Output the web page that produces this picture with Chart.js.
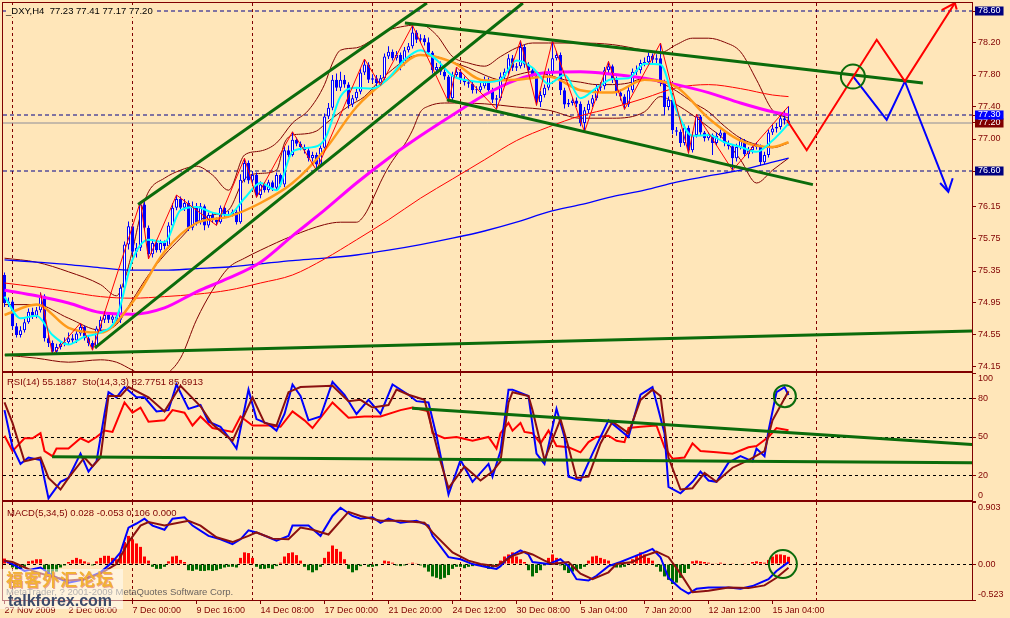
<!DOCTYPE html>
<html><head><meta charset="utf-8">
<script src="https://cdn.jsdelivr.net/npm/chart.js@4.4.1/dist/chart.umd.min.js"></script>
<style>
html,body{margin:0;padding:0;background:#FFE6B9;}
#wrap{position:relative;width:1010px;height:618px;overflow:hidden;background:#FFE6B9;font-family:'Liberation Sans',Arial,sans-serif;}
canvas{position:absolute;left:0;}
.frame{position:absolute;box-sizing:border-box;border:1px solid #800000;pointer-events:none;}
.txt{position:absolute;white-space:pre;line-height:12px;}
</style></head><body>
<div id="wrap">
<canvas id="c1" width="1010" height="372" style="top:0px;width:1010px;height:372px"></canvas>
<canvas id="c2" width="1010" height="131" style="top:371px;width:1010px;height:131px"></canvas>
<canvas id="c3" width="1010" height="118" style="top:500px;width:1010px;height:118px"></canvas>
<div class="frame" style="left:2px;top:2px;width:971px;height:370px"></div>
<div class="frame" style="left:2px;top:372px;width:971px;height:129px"></div>
<div class="frame" style="left:2px;top:501px;width:971px;height:100px"></div>
<div class="txt" style="left:6px;top:5px;font-size:9.5px;color:#000;background:#FFE6B9;padding-right:2px">_DXY,H4  77.23 77.41 77.17 77.20</div>
<div class="txt" style="left:7px;top:376px;font-size:9.5px;color:#800000">RSI(14) 55.1887  Sto(14,3,3) 82.7751 85.6913</div>
<div class="txt" style="left:7px;top:507px;font-size:9.5px;color:#800000">MACD(5,34,5) 0.028 -0.053 0.106 0.000</div>
<div class="txt" style="left:6px;top:586px;font-size:9.5px;color:#6a6460">MetaTrader, ? 2001-2009 MetaQuotes Software Corp.</div>
<div style="position:absolute;left:0;top:569px;width:123px;height:40px;background:rgba(255,255,255,0.5)"></div>
<div class="txt" style="left:6px;top:569px;line-height:20px;font-size:17px;font-weight:bold;letter-spacing:1px;color:#F2B134;text-shadow:1px 1px 0 rgba(215,90,90,0.55);font-family:'Noto Sans CJK SC',sans-serif">福客外汇论坛</div>
<div class="txt" style="left:8px;top:592px;line-height:17px;font-size:16px;font-weight:bold;color:#3C4A6B">talkforex.com</div>
</div>
<script>
// ---------------- DATA ----------------
const opens = [
75.30,74.95,74.97,74.66,74.55,74.61,74.71,74.84,74.79,74.86,
75.04,74.51,74.45,74.34,74.40,74.44,74.46,74.51,74.48,74.57,
74.65,74.51,74.45,74.40,74.63,74.74,74.80,74.74,74.78,74.74,
75.14,75.68,75.91,75.59,75.64,76.18,75.89,75.56,75.70,75.61,
75.70,75.66,75.92,76.14,76.25,76.14,76.20,75.89,76.16,75.96,
76.16,75.92,76.05,75.99,75.96,76.14,76.05,76.06,76.09,75.96,
76.49,76.70,76.48,76.55,76.30,76.43,76.36,76.46,76.39,76.55,
76.43,76.86,76.80,76.99,76.94,76.90,76.86,76.76,76.80,76.68,
76.89,77.28,77.39,77.74,77.64,77.74,77.68,77.43,77.51,77.59,
77.83,77.93,77.74,77.76,77.70,77.76,78.03,78.09,78.01,78.05,
77.95,78.11,78.16,78.33,78.24,78.26,78.21,78.08,77.86,77.90,
77.84,77.78,77.51,77.80,77.84,77.74,77.71,77.69,77.61,77.61,
77.66,77.74,77.61,77.49,77.51,77.78,77.84,78.01,77.89,77.91,
78.15,77.93,77.86,77.79,77.46,77.55,77.64,77.84,78.01,78.05,
77.61,77.43,77.45,77.48,77.44,77.20,77.36,77.44,77.51,77.64,
77.66,77.86,77.91,77.74,77.58,77.53,77.43,77.61,77.84,77.86,
77.95,77.96,78.04,77.99,78.01,77.70,77.40,77.49,77.11,77.09,
76.95,77.14,76.86,77.05,77.28,77.08,77.01,77.05,76.95,77.04,
77.08,76.95,76.91,76.76,76.90,76.98,76.81,76.86,76.90,76.91,
76.71,76.80,77.08,77.13,77.15,77.26,77.23];
const closes = [
74.95,74.97,74.66,74.55,74.61,74.71,74.84,74.79,74.86,75.04,
74.51,74.45,74.34,74.40,74.44,74.46,74.51,74.48,74.57,74.65,
74.51,74.45,74.40,74.63,74.74,74.80,74.74,74.78,74.74,75.14,
75.68,75.91,75.59,75.64,76.18,75.89,75.56,75.70,75.61,75.70,
75.66,75.92,76.14,76.25,76.14,76.20,75.89,76.16,75.96,76.16,
75.92,76.05,75.99,75.96,76.14,76.05,76.06,76.09,75.96,76.49,
76.70,76.48,76.55,76.30,76.43,76.36,76.46,76.39,76.55,76.43,
76.86,76.80,76.99,76.94,76.90,76.86,76.76,76.80,76.68,76.89,
77.28,77.39,77.74,77.64,77.74,77.68,77.43,77.51,77.59,77.83,
77.93,77.74,77.76,77.70,77.76,78.03,78.09,78.01,78.05,77.95,
78.11,78.16,78.33,78.24,78.26,78.21,78.08,77.86,77.90,77.84,
77.78,77.51,77.80,77.84,77.74,77.71,77.69,77.61,77.61,77.66,
77.74,77.61,77.49,77.51,77.78,77.84,78.01,77.89,77.91,78.15,
77.93,77.86,77.79,77.46,77.55,77.64,77.84,78.01,78.05,77.61,
77.43,77.45,77.48,77.44,77.20,77.36,77.44,77.51,77.64,77.66,
77.86,77.91,77.74,77.58,77.53,77.43,77.61,77.84,77.86,77.95,
77.96,78.04,77.99,78.01,77.70,77.40,77.49,77.11,77.09,76.95,
77.14,76.86,77.05,77.28,77.08,77.01,77.05,76.95,77.04,77.08,
76.95,76.91,76.76,76.90,76.98,76.81,76.86,76.90,76.91,76.71,
76.80,77.08,77.13,77.15,77.26,77.23,77.20];
const highs = [
75.33,75.02,74.99,74.70,74.66,74.75,74.88,74.89,74.90,75.08,
75.06,74.55,74.48,74.44,74.47,74.52,74.58,74.56,74.62,74.70,
74.67,74.54,74.48,74.66,74.78,74.85,74.83,74.82,74.81,75.18,
75.72,75.97,75.94,75.70,76.22,76.21,75.92,75.75,75.74,75.74,
75.73,75.96,76.20,76.30,76.28,76.25,76.23,76.22,76.20,76.20,
76.18,76.08,76.08,76.02,76.17,76.16,76.10,76.12,76.12,76.56,
76.76,76.73,76.60,76.58,76.47,76.46,76.49,76.48,76.58,76.57,
76.90,76.92,77.09,77.02,76.97,76.93,76.89,76.84,76.83,76.92,
77.32,77.45,77.80,77.82,77.84,77.80,77.71,77.55,77.63,77.88,
78.00,77.96,77.81,77.80,77.80,78.07,78.16,78.12,78.10,78.08,
78.15,78.20,78.42,78.36,78.31,78.30,78.27,78.10,77.95,77.97,
77.88,77.80,77.84,77.90,77.86,77.78,77.75,77.72,77.66,77.70,
77.78,77.77,77.64,77.55,77.83,77.88,78.06,78.05,77.95,78.23,
78.18,77.96,77.89,77.82,77.60,77.68,77.88,78.23,78.10,78.08,
77.64,77.50,77.52,77.52,77.47,77.40,77.48,77.55,77.68,77.71,
77.90,77.97,77.93,77.78,77.62,77.56,77.65,77.88,77.92,77.99,
78.02,78.08,78.07,78.06,78.20,77.74,77.53,77.52,77.15,77.12,
77.18,77.17,77.09,77.31,77.30,77.10,77.08,77.07,77.08,77.12,
77.10,76.98,76.93,76.94,77.02,77.00,76.90,76.95,76.96,76.93,
76.84,77.12,77.19,77.20,77.31,77.36,77.41];
const lows = [
74.90,74.90,74.62,74.52,74.52,74.58,74.69,74.75,74.76,74.83,
74.47,74.40,74.30,74.31,74.37,74.41,74.43,74.44,74.45,74.54,
74.48,74.41,74.36,74.38,74.60,74.70,74.70,74.70,74.68,74.70,
75.10,75.62,75.55,75.52,75.60,75.85,75.50,75.52,75.58,75.58,
75.62,75.63,75.90,76.11,76.10,76.10,75.85,75.86,75.92,75.93,
75.86,75.89,75.95,75.92,75.94,76.02,76.02,76.03,75.93,75.94,
76.46,76.44,76.44,76.27,76.26,76.33,76.33,76.35,76.36,76.40,
76.40,76.77,76.78,76.91,76.86,76.82,76.72,76.72,76.61,76.65,
76.86,77.25,77.36,77.60,77.60,77.64,77.38,77.40,77.48,77.56,
77.80,77.70,77.70,77.66,77.67,77.73,78.00,77.98,77.98,77.86,
77.92,78.08,78.13,78.20,78.21,78.17,78.04,77.82,77.82,77.80,
77.74,77.46,77.48,77.76,77.70,77.67,77.64,77.57,77.57,77.58,
77.63,77.57,77.45,77.37,77.48,77.74,77.80,77.85,77.85,77.88,
77.89,77.82,77.75,77.42,77.40,77.52,77.61,77.80,77.98,77.55,
77.38,77.40,77.42,77.40,77.16,77.09,77.32,77.40,77.48,77.60,
77.62,77.82,77.70,77.54,77.48,77.37,77.40,77.58,77.80,77.82,
77.91,77.92,77.95,77.95,77.66,77.30,77.36,77.06,77.04,76.90,
76.92,76.82,76.83,77.02,77.04,76.97,76.98,76.80,76.92,77.01,
76.91,76.87,76.61,76.72,76.87,76.78,76.76,76.82,76.87,76.67,
76.68,76.77,77.05,77.08,77.12,77.18,77.17];

const maIdx = [0,8,16,24,32,40,48,56,64,72,80,88,96,104,112,120,128,136,144,152,160,168,176,184,192,196];
const blueMA = [75.49,75.46,75.43,75.39,75.36,75.36,75.38,75.40,75.44,75.48,75.51,75.55,75.61,75.68,75.76,75.85,75.96,76.09,76.18,76.28,76.36,76.46,76.54,76.61,76.71,76.76];
const magentaMA = [75.11,75.04,74.95,74.83,74.81,74.89,75.09,75.26,75.46,75.79,76.11,76.45,76.76,77.04,77.30,77.55,77.74,77.83,77.84,77.81,77.76,77.68,77.58,77.45,77.34,77.30];
const redMA = [75.20,75.15,75.09,75.03,75.01,75.03,75.06,75.11,75.20,75.30,75.50,75.74,75.99,76.26,76.50,76.74,76.98,77.15,77.29,77.39,77.51,77.64,77.68,77.63,77.55,77.53];
const orangeMA = [74.80,74.93,74.64,74.58,74.96,75.59,75.95,76.03,76.20,76.45,76.86,77.40,77.76,78.05,77.96,77.73,77.74,77.78,77.61,77.58,77.74,77.65,77.26,76.98,76.90,76.96];
const cyanIdx = [0,4,8,12,16,20,24,28,32,36,40,44,48,52,56,60,64,68,72,76,80,84,88,92,96,100,104,108,112,116,120,124,128,132,136,140,144,148,152,156,160,164,168,172,176,180,184,188,192,196];
const cyanMA = [75.03,74.76,74.79,74.55,74.43,74.53,74.58,74.76,75.49,75.74,75.71,76.11,76.15,76.08,76.05,76.26,76.45,76.36,76.84,76.89,76.99,77.53,77.64,77.63,77.76,77.99,78.11,77.99,77.79,77.73,77.71,77.74,77.98,77.89,77.69,77.80,77.51,77.64,77.75,77.76,77.94,77.93,77.36,77.04,77.05,76.96,76.90,76.84,76.98,77.19];

const bbUpIdx = [0,8,16,24,28,30,32,34,36,40,44,48,52,56,60,64,68,72,76,80,82,84,88,92,96,100,104,108,112,116,120,124,128,132,136,144,152,160,164,168,172,176,180,184,188,192,196];
const bbUp = [75.51,75.46,75.34,75.18,75.04,75.24,75.61,76.05,76.34,76.51,76.61,76.66,76.55,76.36,76.80,76.85,76.95,77.20,77.36,77.68,77.95,78.11,78.14,78.24,78.36,78.41,78.43,78.30,78.03,77.95,77.91,78.03,78.14,78.20,78.20,78.20,78.18,78.11,78.08,78.18,78.26,78.26,78.21,78.09,77.74,77.36,77.26];
const bbMidIdx = [0,8,16,24,28,32,36,40,44,48,52,56,60,64,68,70,72,74,78,80,82,86,90,94,98,100,104,108,112,116,120,124,128,132,136,140,144,148,152,156,160,164,168,172,176,180,184,188,192,196];
const bbMid = [74.93,74.93,74.76,74.61,74.68,74.99,75.30,75.55,75.76,75.96,76.05,76.11,76.50,76.57,76.61,76.95,77.05,77.06,77.10,77.18,77.26,77.41,77.53,77.74,77.91,77.99,78.05,78.03,77.96,77.89,77.80,77.74,77.80,77.84,77.80,77.74,77.71,77.68,77.68,77.70,77.76,77.70,77.60,77.46,77.34,77.16,77.01,76.93,76.89,76.95];
const bbLoIdx = [0,8,16,24,28,32,36,40,44,48,52,56,60,64,72,80,84,88,90,92,94,96,98,100,102,104,106,110,120,128,136,144,152,160,164,168,172,176,180,184,188,192,196];
const bbLo = [74.30,74.26,74.21,74.24,74.21,74.11,74.01,74.05,74.26,74.74,75.11,75.39,75.51,75.61,75.79,75.93,75.96,75.96,76.05,76.24,76.46,76.65,76.80,76.93,77.11,77.34,77.41,77.45,77.44,77.40,77.36,77.26,77.26,77.34,77.53,77.43,77.30,77.15,76.99,76.74,76.45,76.61,76.76];

const zigIdx = [9,12,19,22,34,36,43,53,60,63,72,78,90,94,102,111,113,123,129,133,137,145,151,155,164,171,173,182,196];
const zigVal = [75.08,74.30,74.70,74.36,76.22,75.50,76.30,75.92,76.76,76.27,77.09,76.61,78.00,77.67,78.42,77.46,77.90,77.37,78.23,77.42,78.23,77.09,77.97,77.37,78.20,76.82,77.31,76.61,77.41];

// trend lines: [startIndex, endIndex], [startPrice, endPrice]
const trendUpperChanIdx = [33.4,105.6], trendUpperChan = [76.18,78.70];
const trendLowerChanIdx = [22.6,129.6], trendLowerChan = [74.39,78.70];
const trendDownTopIdx = [100.1,229.6], trendDownTop = [78.45,77.70];
const trendDownBotIdx = [110.6,202.1], trendDownBot = [77.49,76.43];
const trendBaseIdx = [0.1,241.9], trendBase = [74.30,74.60];
// forecast paths
const fcRedIdx = [195.55,200.55,218.05,225.1,237.6], fcRed = [77.24,76.86,78.24,77.72,78.70];
const fcRedHeadIdx = [234.3,237.6,238.05], fcRedHead = [78.61,78.70,78.62];
const fcBlueIdx = [212.2,220.55,225.1,235.95], fcBlue = [77.78,77.24,77.72,76.34];
const fcBlueHeadIdx = [233.9,235.95,237.05], fcBlueHead = [76.45,76.34,76.51];
const circleMainIdx = [212.1], circleMain = [77.78];

const dashedLevels = [78.60,77.30,76.60];
const bidLevel = 77.20;
const priceTicks = [74.15,74.55,74.95,75.35,75.75,76.15,76.60,77.00,77.20,77.30,77.40,77.80,78.20,78.60];

const weekIdx = [2,32,62,92,114,137,167,203];
const dateTicks = [0,16,32,48,64,80,96,112,128,144,160,176,192];
const dateLabels = ['27 Nov 2009','2 Dec 08:00','7 Dec 00:00','9 Dec 16:00','14 Dec 08:00','17 Dec 00:00','21 Dec 20:00','24 Dec 12:00','30 Dec 08:00','5 Jan 04:00','7 Jan 20:00','12 Jan 12:00','15 Jan 04:00'];

// RSI / Stochastic
const rsiTicks = [0,20,50,80,100];
const rsiIdx = [0,2,5,7,9,10,12,13,16,19,21,23,25,27,30,32,34,36,40,42,45,47,49,52,57,59,62,66,69,72,75,77,82,86,90,94,99,102,106,107,110,113,117,121,123,124,126,127,129,130,132,134,136,138,141,144,146,148,151,153,155,156,159,163,165,167,170,172,174,178,182,186,188,191,193,196];
const rsiVal = [51,39,49,49,53,39,35,41,41,49,46,50,55,54,77,69,73,62,63,71,69,59,66,57,54,66,59,59,58,70,63,57,77,65,66,66,71,73,70,53,49,50,47,50,41,53,61,55,61,54,53,45,55,43,42,38,46,50,51,47,46,57,58,59,42,33,34,45,39,38,37,42,43,50,57,55.19];
const stoIdx = [0,2,4,6,9,11,14,16,19,21,23,25,26,28,30,33,35,38,41,43,46,49,51,54,56,58,61,63,66,68,70,72,74,76,79,82,85,88,91,94,97,101,103,106,108,111,114,117,121,122,124,126,127,131,133,135,138,140,141,144,147,149,151,156,159,162,165,166,169,172,174,176,178,181,184,187,188,190,191,193,195,196];
const stoMain = [71,42,29,34,32,2,15,18,37,23,31,68,85,81,89,81,81,70,71,91,72,75,62,58,50,41,87,64,60,55,68,91,82,63,66,93,83,68,79,68,91,83,78,77,51,5,32,15,29,19,39,87,87,82,37,29,72,50,19,16,37,50,63,50,83,89,53,11,6,15,23,16,15,30,35,31,41,35,55,85,89,82.78];
const sigIdx = [0,2,5,9,11,14,16,20,22,24,26,29,31,36,40,44,49,52,57,62,65,68,71,74,82,86,89,92,96,98,101,105,106,109,111,115,119,122,124,126,127,131,132,135,139,141,143,146,149,152,156,159,162,164,166,169,172,175,178,182,186,190,192,196];
const stoSignal = [77,61,31,34,18,9,18,34,27,34,82,82,89,81,70,90,74,60,47,81,61,59,85,89,90,78,79,73,75,87,83,79,67,31,10,27,16,23,31,77,85,82,71,32,64,42,18,19,45,62,53,79,87,82,34,9,10,22,15,26,32,39,63,85.69];
const rsiTrendAIdx = [101.9,241.9], rsiTrendA = [72.4,44.1];
const rsiTrendBIdx = [11.9,241.9], rsiTrendB = [34.6,29.9];
const circleRsiIdx = [195.1], circleRsi = [81.9];

// MACD
const macdTicks = [-0.523,0,0.903];
const macdIdx = [0,2,5,9,12,16,20,24,27,29,31,33,35,37,40,42,45,47,51,54,57,59,61,63,66,68,71,72,76,79,82,84,87,89,92,94,96,99,103,106,107,111,114,117,121,123,124,126,129,131,132,136,139,141,143,146,148,151,154,157,160,162,164,166,169,171,173,176,181,184,187,191,193,196];
const macdMain = [0.05,0.0,-0.10,-0.05,-0.17,-0.27,-0.22,-0.12,0.03,0.17,0.53,0.59,0.66,0.56,0.50,0.66,0.68,0.56,0.41,0.36,0.29,0.36,0.49,0.46,0.39,0.34,0.41,0.56,0.56,0.41,0.70,0.82,0.70,0.66,0.68,0.60,0.66,0.60,0.63,0.56,0.41,0.10,0.07,0.0,-0.05,-0.07,-0.03,0.10,0.20,0.14,0.03,0.0,0.07,-0.03,-0.22,-0.24,-0.17,-0.03,0.03,0.10,0.17,0.22,0.10,-0.20,-0.36,-0.43,-0.36,-0.34,-0.34,-0.36,-0.32,-0.22,-0.10,0.028];
const macdSigIdx = [0,2,7,11,16,20,24,28,31,34,36,40,46,49,53,57,61,63,67,71,74,77,81,86,89,94,99,105,107,112,116,119,123,127,130,132,135,137,141,144,147,151,153,157,160,163,166,169,172,176,181,186,190,193,196];
const macdSignal = [0.05,0.03,-0.10,-0.17,-0.24,-0.22,-0.14,0.0,0.32,0.56,0.61,0.56,0.63,0.56,0.39,0.32,0.41,0.46,0.37,0.36,0.53,0.50,0.43,0.76,0.70,0.63,0.63,0.60,0.46,0.17,0.05,0.0,-0.03,0.12,0.18,0.14,0.05,0.0,0.03,-0.14,-0.22,-0.12,0.0,0.03,0.12,0.18,0.10,-0.14,-0.41,-0.39,-0.34,-0.35,-0.31,-0.20,-0.053];
const macdHist = [
0.08,0.04,-0.05,-0.08,-0.07,-0.04,0.04,0.05,0.07,0.07,
-0.09,-0.14,-0.18,-0.11,-0.05,-0.02,0.03,0.06,0.09,0.07,
0.04,0.02,-0.02,0.04,0.09,0.12,0.12,0.09,0.07,0.16,
0.32,0.41,0.36,0.30,0.25,0.11,0.05,-0.04,-0.07,-0.07,
-0.04,0.04,0.11,0.12,0.06,0.03,-0.09,-0.10,-0.08,-0.10,
-0.10,-0.09,-0.10,-0.09,-0.07,-0.05,-0.04,-0.04,-0.05,0.09,
0.17,0.16,0.09,-0.04,-0.07,-0.07,-0.06,-0.07,-0.03,0.02,
0.11,0.16,0.17,0.13,0.05,-0.04,-0.09,-0.12,-0.09,-0.04,
0.09,0.18,0.27,0.22,0.18,0.07,-0.07,-0.12,-0.09,-0.03,
0.00,-0.04,-0.04,-0.03,0.00,0.05,0.04,0.02,-0.02,-0.03,
-0.02,0.01,0.02,0.01,-0.02,-0.05,-0.11,-0.18,-0.20,-0.22,
-0.20,-0.16,-0.07,-0.04,-0.04,-0.06,-0.04,-0.03,-0.01,-0.02,
-0.04,-0.07,-0.05,-0.02,0.05,0.11,0.14,0.17,0.11,0.07,
0.03,-0.09,-0.18,-0.13,-0.09,-0.02,0.09,0.14,0.09,-0.02,
-0.09,-0.13,-0.11,-0.09,-0.07,-0.04,0.05,0.11,0.12,0.09,
0.07,0.05,-0.03,-0.05,-0.05,-0.04,0.02,0.07,0.12,0.17,
0.14,0.09,0.05,-0.04,-0.11,-0.18,-0.23,-0.29,-0.27,-0.20,
-0.13,-0.07,0.04,0.05,0.04,0.03,0.02,0.01,0.01,0.02,
0.01,-0.01,0.01,-0.01,-0.01,0.01,-0.01,0.03,0.04,0.03,
0.02,0.06,0.11,0.14,0.14,0.13,0.106];
const circleMacdIdx = [194.6], circleMacd = [0.0];

// ---------------- CHART SETUP ----------------
const X_MIN = -0.375, X_MAX = 241.875;
const DARK = '#800000';
const FONT = "'Liberation Sans', Arial, sans-serif";
Chart.defaults.font.family = FONT;
Chart.defaults.font.size = 9;

function noPad(s){ s.paddingTop = 0; s.paddingBottom = 0; s.paddingLeft = 0; s.paddingRight = 0; }
function pts(idx, vals){ return idx.map((x,k)=>({x:x, y:vals[k]})); }
function lineDS(idx, vals, color, width, extra){
  return Object.assign({type:'line', data:pts(idx, vals), borderColor:color, borderWidth:width,
    pointRadius:0, pointHoverRadius:0, pointHitRadius:0, fill:false, tension:0}, extra||{});
}
function smoothDS(idx, vals, color, width, order){
  return lineDS(idx, vals, color, width, {cubicInterpolationMode:'monotone', order:order});
}
function circleDS(idx, vals, r, order){
  return {type:'line', data:pts(idx, vals), showLine:false, pointRadius:r, pointHoverRadius:r, pointHitRadius:0, pointStyle:'circle',
    pointBackgroundColor:'rgba(0,0,0,0)', pointBorderColor:'#0B6B0B', pointBorderWidth:2, order:order, clip:false};
}
function weeklyAxis(){
  return {type:'linear', min:X_MIN, max:X_MAX, offset:false, position:'bottom',
    afterBuildTicks: s => { s.ticks = weekIdx.map(v=>({value:v})); },
    ticks:{display:false},
    grid:{color:DARK, lineWidth:1, drawTicks:false, offset:false},
    border:{display:false, dash:[3,3]},
    afterFit: s => { s.height = 0; noPad(s); }};
}
function rightAxis(extra){
  return Object.assign({type:'linear', position:'right',
    afterFit: s => { s.width = 38; noPad(s); }}, extra);
}
const commonOpts = {responsive:false, animation:false, devicePixelRatio:1, events:[],
  plugins:{legend:{display:false}, tooltip:{enabled:false}}};

const boxFill = {'78.60':'#000080','77.30':'#0000FF','77.20':'#800000','76.60':'#000080'};
function boxOf(c){ return c && c.tick ? boxFill[Number(c.tick.value).toFixed(2)] : undefined; }

// ---- main chart ----
const bodies = closes.map((c,i)=>({x:i, y:[opens[i], c]}));
const wicks = closes.map((c,i)=>({x:i, y:[lows[i], highs[i]]}));
const bodyFill = closes.map((c,i)=> c >= opens[i] ? '#FFFFFF' : '#0000FF');

const mainDatasets = [];
dashedLevels.forEach(v => mainDatasets.push(lineDS([X_MIN,X_MAX],[v,v],'#00008B',1,{borderDash:[4,3], order:95})));
mainDatasets.push(lineDS([X_MIN,X_MAX],[bidLevel,bidLevel],'#8C8C98',1,{order:94}));
mainDatasets.push(smoothDS(bbUpIdx, bbUp, '#800000', 1, 90));
mainDatasets.push(smoothDS(bbMidIdx, bbMid, '#800000', 1, 90));
mainDatasets.push(smoothDS(bbLoIdx, bbLo, '#800000', 1, 90));
mainDatasets.push({type:'bar', data:wicks, backgroundColor:'#0000FF', borderWidth:0, barThickness:1, grouped:false, inflateAmount:0, order:70});
mainDatasets.push({type:'bar', data:bodies, backgroundColor:bodyFill, borderColor:'#0000FF', borderWidth:1, borderSkipped:false, barThickness:3, grouped:false, minBarLength:1, inflateAmount:0, order:60});
mainDatasets.push(smoothDS(maIdx, blueMA, '#0000FF', 1.3, 55));
mainDatasets.push(smoothDS(maIdx, redMA, '#FF0000', 1, 54));
mainDatasets.push(smoothDS(maIdx, magentaMA, '#FF00FF', 3, 53));
mainDatasets.push(smoothDS(maIdx, orangeMA, '#FF9A1A', 2.5, 50));
mainDatasets.push(smoothDS(cyanIdx, cyanMA, '#00FFFF', 2, 45));
mainDatasets.push(lineDS(zigIdx, zigVal, '#FF0000', 1, {order:30}));
[[trendUpperChanIdx,trendUpperChan],[trendLowerChanIdx,trendLowerChan],[trendDownTopIdx,trendDownTop],[trendDownBotIdx,trendDownBot],[trendBaseIdx,trendBase]]
  .forEach(t => mainDatasets.push(lineDS(t[0], t[1], '#0B6B0B', 3, {order:20})));
mainDatasets.push(lineDS(fcRedIdx, fcRed, '#FF0000', 2, {order:10}));
mainDatasets.push(lineDS(fcRedHeadIdx, fcRedHead, '#FF0000', 2, {order:10}));
mainDatasets.push(lineDS(fcBlueIdx, fcBlue, '#0000FF', 2, {order:10}));
mainDatasets.push(lineDS(fcBlueHeadIdx, fcBlueHead, '#0000FF', 2, {order:10}));
mainDatasets.push(circleDS(circleMainIdx, circleMain, 12, 5));

new Chart(document.getElementById('c1'), {
  type:'line', data:{datasets:mainDatasets},
  options:Object.assign({}, commonOpts, {
    layout:{autoPadding:false, padding:{left:3, top:3, right:0, bottom:1}},
    scales:{
      x: weeklyAxis(),
      y: rightAxis({min:74.10, max:78.70,
        afterBuildTicks: s => { s.ticks = priceTicks.map(v=>({value:v})); },
        ticks:{autoSkip:false, padding:2, font:{size:9, lineHeight:1},
          callback: v => Number(v).toFixed(2),
          color: c => boxOf(c) ? '#FFFFFF' : DARK,
          showLabelBackdrop: c => !!boxOf(c),
          backdropColor: c => boxOf(c) || 'rgba(0,0,0,0)',
          backdropPadding:{left:3, right:3, top:0, bottom:0}},
        grid:{drawOnChartArea:false, tickLength:4, tickColor:DARK, color:DARK},
        border:{display:true, color:DARK, width:1}})
    }})
});

// ---- RSI / Stochastic chart ----
new Chart(document.getElementById('c2'), {
  type:'line',
  data:{datasets:[
    lineDS(rsiIdx, rsiVal, '#FF0000', 2, {order:30}),
    lineDS(sigIdx, stoSignal, '#8B1010', 2, {order:25}),
    lineDS(stoIdx, stoMain, '#0000FF', 2, {order:28}),
    lineDS(rsiTrendAIdx, rsiTrendA, '#0B6B0B', 3, {order:10}),
    lineDS(rsiTrendBIdx, rsiTrendB, '#0B6B0B', 3, {order:10}),
    circleDS(circleRsiIdx, circleRsi, 11, 5)
  ]},
  options:Object.assign({}, commonOpts, {
    layout:{autoPadding:false, padding:{left:3, top:2, right:0, bottom:1}},
    scales:{
      x: weeklyAxis(),
      y: rightAxis({min:0, max:100,
        afterBuildTicks: s => { s.ticks = rsiTicks.map(v=>({value:v})); },
        ticks:{autoSkip:false, padding:2, color:DARK, font:{size:9},
          callback: v => v === 100 ? ['', '100'] : (v === 0 ? ['0', ''] : String(v))},
        grid:{color: c => (c.tick && [20,50,80].includes(c.tick.value)) ? '#000000' : 'rgba(0,0,0,0)',
          lineWidth:1, tickLength:4, tickColor:DARK},
        border:{display:true, color:DARK, width:1, dash:[3,3]}})
    }})
});

// ---- MACD chart ----
const histData = macdHist.map((v,i)=>({x:i, y:v}));
new Chart(document.getElementById('c3'), {
  type:'line',
  data:{datasets:[
    {type:'bar', data:histData, backgroundColor: macdHist.map(v => v >= 0 ? '#FF0000' : '#006A00'),
      borderWidth:0, barThickness:3, grouped:false, inflateAmount:0, order:40},
    lineDS(macdSigIdx, macdSignal, '#8B1010', 2, {order:25}),
    lineDS(macdIdx, macdMain, '#0000FF', 2, {order:28}),
    circleDS(circleMacdIdx, circleMacd, 14, 5)
  ]},
  options:Object.assign({}, commonOpts, {
    layout:{autoPadding:false, padding:{left:3, top:2, right:0, bottom:0}},
    scales:{
      x: {type:'linear', min:X_MIN, max:X_MAX, position:'bottom', offset:false,
        afterBuildTicks: s => { s.ticks = dateTicks.map(v=>({value:v})); },
        afterFit: s => { s.height = 18; noPad(s); },
        ticks:{autoSkip:false, maxRotation:0, minRotation:0, align:'start', padding:1, color:DARK, font:{size:9},
          callback: (v,i) => dateLabels[i]},
        grid:{drawOnChartArea:false, tickLength:4, tickColor:DARK, offset:false},
        border:{display:false}},
      xw: weeklyAxis(),
      y: rightAxis({min:-0.523, max:0.903,
        afterBuildTicks: s => { s.ticks = macdTicks.map(v=>({value:v})); },
        ticks:{autoSkip:false, padding:2, color:DARK, font:{size:9},
          callback: v => v === 0.903 ? ['', '0.903'] : (v === -0.523 ? ['-0.523', ''] : '0.00')},
        grid:{color: c => (c.tick && c.tick.value === 0) ? '#000000' : 'rgba(0,0,0,0)',
          lineWidth:1, tickLength:4, tickColor:DARK},
        border:{display:true, color:DARK, width:1, dash:[3,3]}})
    }})
});
</script>
</body></html>
